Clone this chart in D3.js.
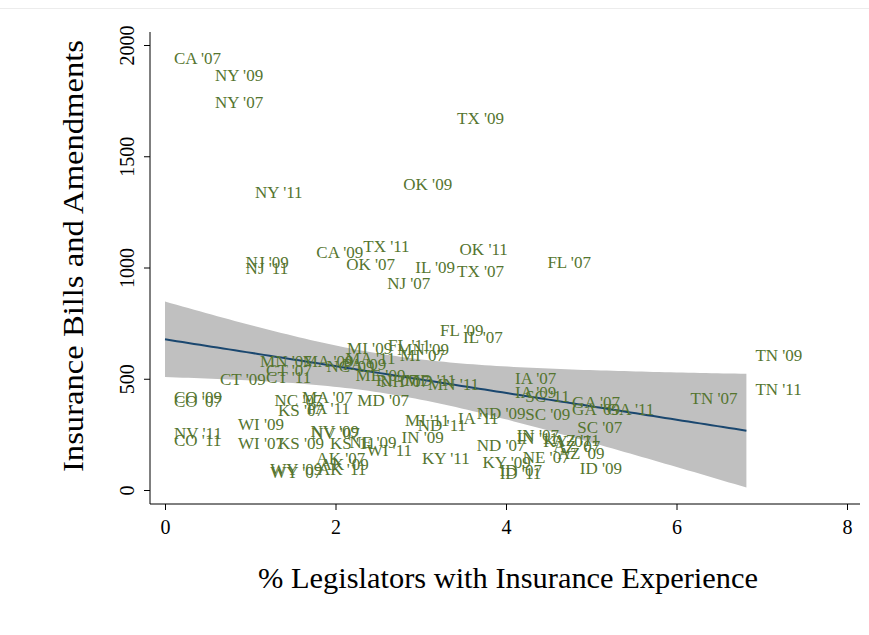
<!DOCTYPE html>
<html><head><meta charset="utf-8">
<script src="https://cdn.jsdelivr.net/npm/d3@7"></script>
<style>body{margin:0;background:#fff}svg{display:block}</style>
</head><body>
<svg id="c" width="869" height="635"></svg>
<script>
// labels, x = % legislators with insurance experience, y = insurance bills and amendments
const labels = ["CA '07","NY '09","NY '07","TX '09","OK '09","NY '11","CA '09","TX '11","OK '11","NJ '09","NJ '11","OK '07","IL '09","TX '07","FL '07","NJ '07","FL '09","IL '07","MI '09","FL '11","MN '09","MI '07","MA '11","MN '07","MA '09","NC '09","PA '09","CT '09","CT '07","CT '11","ME '09","RI '07","NH '07","MD '11","MN '11","IA '07","IA '09","SC '11","GA '07","GA '09","GA '11","SC '09","ND '09","SC '07","TN '09","TN '11","TN '07","CO '09","CO '07","NC '07","MA '07","MD '07","KS '07","PA '11","NV '11","CO '11","WI '09","WI '07","KS '09","KS '11","NV '09","NV '07","NE '09","WI '11","AK '07","AK '09","AK '11","WY '09","WY '07","MI '11","ND '11","IA '11","IN '09","KY '11","ND '07","KY '09","ID '07","ID '11","IN '07","IN '11","NE '07","KY '07","AZ '11","AZ '07","AZ '09","ID '09"];
const xVals = [0.00,0.48,0.48,3.32,2.69,0.95,1.67,2.22,3.35,0.84,0.84,2.02,2.83,3.32,4.38,2.50,3.12,3.39,2.03,2.51,2.62,2.65,2.01,1.01,1.51,1.79,1.98,0.54,1.08,1.08,2.13,2.37,2.42,2.71,2.98,4.00,4.00,4.12,4.67,4.67,5.08,4.12,3.55,4.73,6.82,6.82,6.06,0.00,0.00,1.18,1.50,2.15,1.22,1.56,0.00,0.00,0.75,0.75,1.22,1.83,1.60,1.61,2.06,2.26,1.67,1.71,1.69,1.13,1.13,2.71,2.86,3.33,2.67,2.91,3.55,3.62,3.82,3.82,4.02,4.02,4.09,4.33,4.45,4.45,4.50,4.76];
const yVals = [1942,1865,1744,1672,1375,1339,1070,1097,1083,1025,998,1016,1002,984,1025,930,719,688,638,652,634,607,593,580,580,557,566,499,539,508,517,494,490,494,476,503,440,422,396,364,364,342,346,283,607,454,413,418,400,404,418,404,360,369,256,225,297,211,211,211,265,256,216,180,144,117,94,94,81,315,292,324,238,144,202,126,90,76,247,234,148,220,225,198,166,99];
const xTicks = [0,2,4,6,8];
const yTicks = [0,500,1000,1500,2000];
const xTitle = "% Legislators with Insurance Experience";
const yTitle = "Insurance Bills and Amendments";

const svg = d3.select("#c");
const x = d3.scaleLinear().domain([0,8]).range([165,847]);
const y = d3.scaleLinear().domain([0,2000]).range([490,45]);
const FONT = "'Liberation Serif','Times New Roman',serif";

// faint graph-region border line at top
svg.append("line").attr("x1",0).attr("x2",869).attr("y1",8.5).attr("y2",8.5).attr("stroke","#ececec");

// linear fit with 95% CI computed from the data
const n = xVals.length;
const mx = d3.mean(xVals), my = d3.mean(yVals);
let sxx=0, sxy=0;
for(let i=0;i<n;i++){sxx+=(xVals[i]-mx)**2; sxy+=(xVals[i]-mx)*(yVals[i]-my);}
const b = sxy/sxx, a = my - b*mx;
let sse=0; for(let i=0;i<n;i++){sse+=(yVals[i]-a-b*xVals[i])**2;}
const s = Math.sqrt(sse/(n-2));
const tcrit = 1.989;
const xmin = d3.min(xVals), xmax = d3.max(xVals);
const grid = d3.range(0,101).map(k=>xmin+(xmax-xmin)*k/100);
const band = grid.map(g=>{const f=a+b*g; const se=s*Math.sqrt(1/n+(g-mx)**2/sxx); return {x:g,f:f,lo:f-tcrit*se,hi:f+tcrit*se};});

svg.append("path").datum(band)
  .attr("d", d3.area().x(d=>x(d.x)).y0(d=>y(d.lo)).y1(d=>y(d.hi)))
  .attr("fill","#c0c0c0");
svg.append("path").datum(band)
  .attr("d", d3.line().x(d=>x(d.x)).y(d=>y(d.f)))
  .attr("fill","none").attr("stroke","#1a476f").attr("stroke-width",2);

// labels (no markers)
svg.append("g").selectAll("text").data(labels).join("text")
  .attr("x",(d,i)=>x(xVals[i])+9)
  .attr("y",(d,i)=>y(yVals[i]))
  .attr("dy","0.35em")
  .attr("font-family",FONT).attr("font-size",17)
  .attr("fill","#55752f")
  .text(d=>d);

// axes
const axY = 150, axX = 504;
svg.append("line").attr("x1",axY).attr("x2",axY).attr("y1",32).attr("y2",axX).attr("stroke","#000").attr("stroke-width",1);
svg.append("line").attr("x1",axY).attr("x2",860).attr("y1",axX).attr("y2",axX).attr("stroke","#000").attr("stroke-width",1);

const gx = svg.append("g").attr("transform",`translate(0,${axX})`)
  .call(d3.axisBottom(x).tickValues(xTicks).tickSize(6).tickFormat(d3.format("d")));
gx.select(".domain").remove();
gx.selectAll("text").attr("font-family",FONT).attr("font-size",20).attr("fill","#000").attr("dy","1.05em");

const gy = svg.append("g").attr("transform",`translate(${axY},0)`)
  .call(d3.axisLeft(y).tickValues(yTicks).tickSize(6).tickFormat(d3.format("d")));
gy.select(".domain").remove();
gy.selectAll("text").attr("font-family",FONT).attr("font-size",20).attr("fill","#000")
  .attr("x",null).attr("dy",null)
  .attr("transform","translate(-21,0) rotate(-90)")
  .attr("text-anchor","middle").attr("dominant-baseline","middle");

svg.append("text").attr("x",508).attr("y",588).attr("text-anchor","middle")
  .attr("font-family",FONT).attr("font-size",30)
  .attr("textLength",500).attr("lengthAdjust","spacingAndGlyphs").text(xTitle);
svg.append("text").attr("transform","translate(76,256) rotate(-90)").attr("text-anchor","middle")
  .attr("dominant-baseline","middle")
  .attr("font-family",FONT).attr("font-size",30)
  .attr("textLength",432).attr("lengthAdjust","spacingAndGlyphs").text(yTitle);
</script>
</body></html>
